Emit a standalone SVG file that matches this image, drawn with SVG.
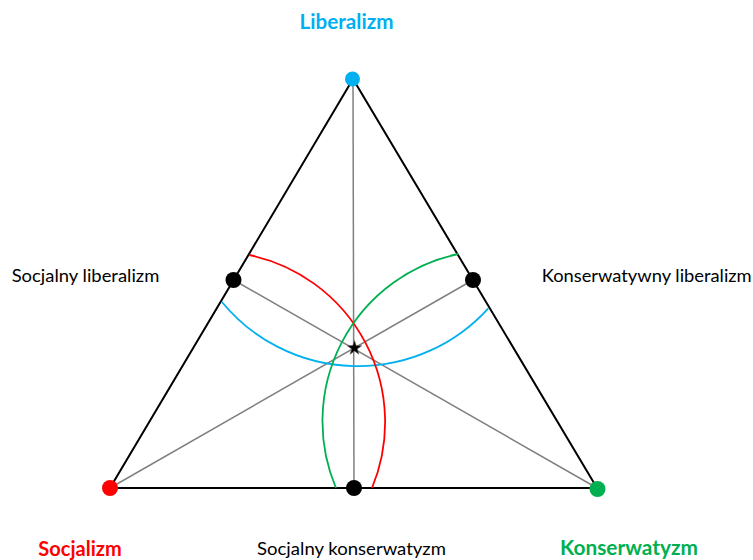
<svg xmlns="http://www.w3.org/2000/svg" width="753" height="560" viewBox="0 0 753 560">
<style>
.edge{stroke:#000;stroke-width:2;fill:none}
.axis{stroke:#808080;stroke-width:1.5;fill:none}
.arc{fill:none;stroke-width:1.8}
.lbl{font-family:Lato,"Liberation Sans",sans-serif;font-size:18px;fill:#000}
.bold{font-weight:bold;font-size:20px}
</style>
<rect width="753" height="560" fill="#fff"/>
<g id="connectors">
<polygon class="edge" points="353,79 110,488 597,488"/>
<line class="axis" x1="353" y1="79" x2="354" y2="488"/>
<line class="axis" x1="110" y1="488" x2="473" y2="280"/>
<line class="axis" x1="597" y1="488" x2="233.6" y2="280"/>
</g>
<g id="arcs">
<path class="arc" stroke="#00B0F0" d="M221.7,301.7 A176,176 0 0 0 488.3,308.3"/>
<path class="arc" stroke="#FF0000" d="M249.3,255 A171,171 0 0 1 372,488"/>
<path class="arc" stroke="#00B050" d="M458.3,254 A171,171 0 0 0 336,488"/>
</g>
<g id="liberalizm">
<circle cx="352.5" cy="79" r="7.5" fill="#00B0F0"/>
<text class="lbl bold" x="299.5" y="29" style="fill:#00B0F0" textLength="94" lengthAdjust="spacingAndGlyphs">Liberalizm</text>
</g>
<g id="socjalizm">
<circle cx="110" cy="488" r="8" fill="#FF0000"/>
<text class="lbl bold" x="38.3" y="556" style="fill:#FF0000" textLength="83.4" lengthAdjust="spacingAndGlyphs">Socjalizm</text>
</g>
<g id="konserwatyzm">
<circle cx="597.5" cy="489" r="8" fill="#00B050"/>
<text class="lbl bold" x="560" y="555" style="fill:#00B050" textLength="138" lengthAdjust="spacingAndGlyphs">Konserwatyzm</text>
</g>
<g id="socjalny-liberalizm">
<circle cx="233.5" cy="280" r="8" fill="#000"/>
<text class="lbl" x="11.7" y="281.5" textLength="147.6" lengthAdjust="spacingAndGlyphs">Socjalny liberalizm</text>
</g>
<g id="konserwatywny-liberalizm">
<circle cx="473" cy="280" r="8" fill="#000"/>
<text class="lbl" x="541.7" y="282" textLength="210" lengthAdjust="spacingAndGlyphs">Konserwatywny liberalizm</text>
</g>
<g id="socjalny-konserwatyzm">
<circle cx="354" cy="488" r="8" fill="#000"/>
<text class="lbl" x="257" y="555" textLength="189" lengthAdjust="spacingAndGlyphs">Socjalny konserwatyzm</text>
</g>
<g id="center">
<polygon points="354.5,340.5 356.2,345.6 361.7,345.7 357.3,348.9 358.9,354.2 354.5,351 350.1,354.2 351.7,348.9 347.3,345.7 352.8,345.6" fill="#000" stroke="#666" stroke-width="0.6"/>
</g>
</svg>
